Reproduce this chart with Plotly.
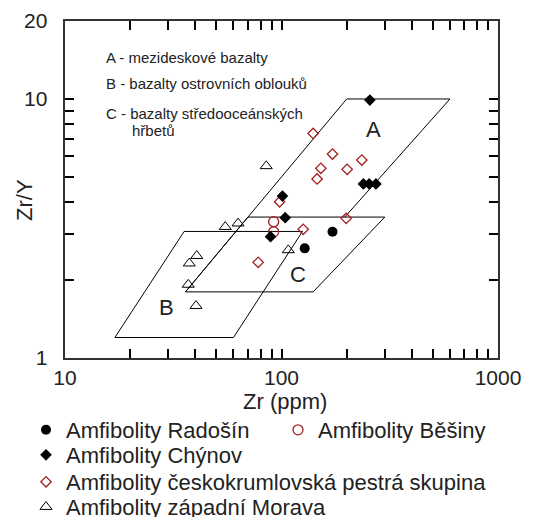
import plotly.graph_objects as go

# ---- field boundaries (Zr ppm, Zr/Y) ----
field_a_zr = [36, 200, 600, 196]
field_a_zry = [1.8, 10, 10, 3.5]
field_b_zr = [17, 60, 125, 35.5, 17]
field_b_zry = [1.2, 1.2, 3.08, 3.08, 1.2]
field_c_zr = [36, 140, 300, 70, 36]
field_c_zry = [1.8, 1.8, 3.5, 3.5, 1.8]

# ---- samples ----
radosin_zr = [172, 128]
radosin_zry = [3.07, 2.65]
besiny_zr = [92, 92]
besiny_zry = [3.36, 3.07]
chynov_zr = [256, 239, 254, 273, 101, 104, 89]
chynov_zry = [9.9, 4.70, 4.70, 4.70, 4.22, 3.48, 2.94]
cesko_zr = [140, 172, 152, 146, 235, 201, 98, 199, 126, 78]
cesko_zry = [7.36, 6.13, 5.40, 4.91, 5.81, 5.35, 4.01, 3.46, 3.14, 2.34]
morava_zr = [85, 55, 63, 40.6, 37.5, 37.1, 107.5, 40.3]
morava_zry = [5.51, 3.21, 3.31, 2.48, 2.32, 1.92, 2.61, 1.59]

x_ticks = [10, 100, 1000]
y_ticks = [1, 10, 20]
x_minor = [20, 30, 40, 50, 60, 70, 80, 90, 200, 300, 400, 500, 600, 700, 800, 900]
y_minor = [2, 3, 4, 5, 6, 7, 8, 9]

FONT = "Liberation Sans, Arial, sans-serif"
RED = "#a31f1f"
W, H = 537, 517

fig = go.Figure()

for fx, fy in [(field_a_zr, field_a_zry), (field_b_zr, field_b_zry), (field_c_zr, field_c_zry)]:
    fig.add_trace(go.Scatter(x=fx, y=fy, mode="lines", line=dict(color="black", width=1),
                             showlegend=False, hoverinfo="skip"))

fig.add_trace(go.Scatter(x=morava_zr, y=morava_zry, mode="markers", name="Amfibolity západní Morava",
                         marker=dict(symbol="triangle-up-open", size=10.5, color="black", line=dict(width=1)),
                         legend="legend5"))
fig.add_trace(go.Scatter(x=cesko_zr, y=cesko_zry, mode="markers", name="Amfibolity českokrumlovská pestrá skupina",
                         marker=dict(symbol="diamond-open", size=8, color=RED, line=dict(width=1.3)),
                         legend="legend4"))
fig.add_trace(go.Scatter(x=besiny_zr, y=besiny_zry, mode="markers", name="Amfibolity Běšiny",
                         marker=dict(symbol="circle-open", size=10, color=RED, line=dict(width=1.3)),
                         legend="legend2"))
fig.add_trace(go.Scatter(x=chynov_zr, y=chynov_zry, mode="markers", name="Amfibolity Chýnov",
                         marker=dict(symbol="diamond", size=9, color="black"),
                         legend="legend3"))
fig.add_trace(go.Scatter(x=radosin_zr, y=radosin_zry, mode="markers", name="Amfibolity Radošín",
                         marker=dict(symbol="circle", size=10, color="black"),
                         legend="legend"))

def leg(xpx, ypx):
    return dict(x=xpx / W, y=1 - ypx / H, xref="container", yref="container",
                xanchor="left", yanchor="middle", bgcolor="rgba(0,0,0,0)",
                font=dict(family=FONT, size=22, color="#222"))

XR = [1, 3]
YR = [0, 1.30103]

x_all = x_ticks + x_minor
x_txt = [str(v) for v in x_ticks] + [""] * len(x_minor)
y_all = y_ticks + y_minor
y_txt = [str(v) + "  " for v in y_ticks] + [""] * len(y_minor)

fig.update_layout(
    width=W, height=H, plot_bgcolor="white", paper_bgcolor="white",
    margin=dict(l=65, r=39, t=21, b=159, autoexpand=False),
    xaxis=dict(type="log", range=XR, showline=True, linecolor="#333", linewidth=1.5, mirror="ticks",
               ticks="inside", ticklen=9, tickwidth=1.5, tickcolor="black", showgrid=False, zeroline=False,
               tickmode="array", tickvals=x_all, ticktext=x_txt,
               tickfont=dict(family=FONT, size=21, color="#222")),
    yaxis=dict(type="log", range=YR, showline=True, linecolor="#333", linewidth=1.5, mirror="ticks",
               ticks="inside", ticklen=9, tickwidth=1.5, tickcolor="black", showgrid=False, zeroline=False,
               tickmode="array", tickvals=y_all, ticktext=y_txt,
               tickfont=dict(family=FONT, size=21, color="#222")),
    legend=leg(26, 430),
    legend2=leg(278, 430),
    legend3=leg(26, 455),
    legend4=leg(26, 482),
    legend5=leg(26, 507),
)

ann_font = dict(family=FONT, size=15, color="#222")
for txt, xp, yp in [("A - mezideskové bazalty", 104, 57),
                    ("B - bazalty ostrovních oblouků", 104, 83),
                    ("C - bazalty středooceánských", 104, 113),
                    ("hřbetů", 130, 130)]:
    fig.add_annotation(text=txt, xref="paper", yref="paper", x=(xp - 65) / 433, y=(358.3 - yp) / 337.6,
                       xanchor="left", yanchor="middle", showarrow=False, font=ann_font)

for txt, xv, yv in [("A", 2.427, 0.8836), ("B", 1.4697, 0.1938), ("C", 2.0776, 0.321)]:
    fig.add_annotation(text=txt, x=xv, y=yv, xref="x", yref="y", showarrow=False,
                       font=dict(family=FONT, size=22, color="#222"))

fig.add_annotation(text="Zr/Y", textangle=-90, xref="paper", yref="paper", x=(25 - 65) / 433,
                   y=(358.3 - 200) / 337.6, xanchor="center", yanchor="middle", showarrow=False,
                   font=dict(family=FONT, size=22, color="#222"))
fig.add_annotation(text="Zr (ppm)", xref="paper", yref="paper", x=(284.5 - 65) / 433,
                   y=(358.3 - 402) / 337.6, xanchor="center", yanchor="middle", showarrow=False,
                   font=dict(family=FONT, size=22, color="#222"))

fig.write_html("out.html")
